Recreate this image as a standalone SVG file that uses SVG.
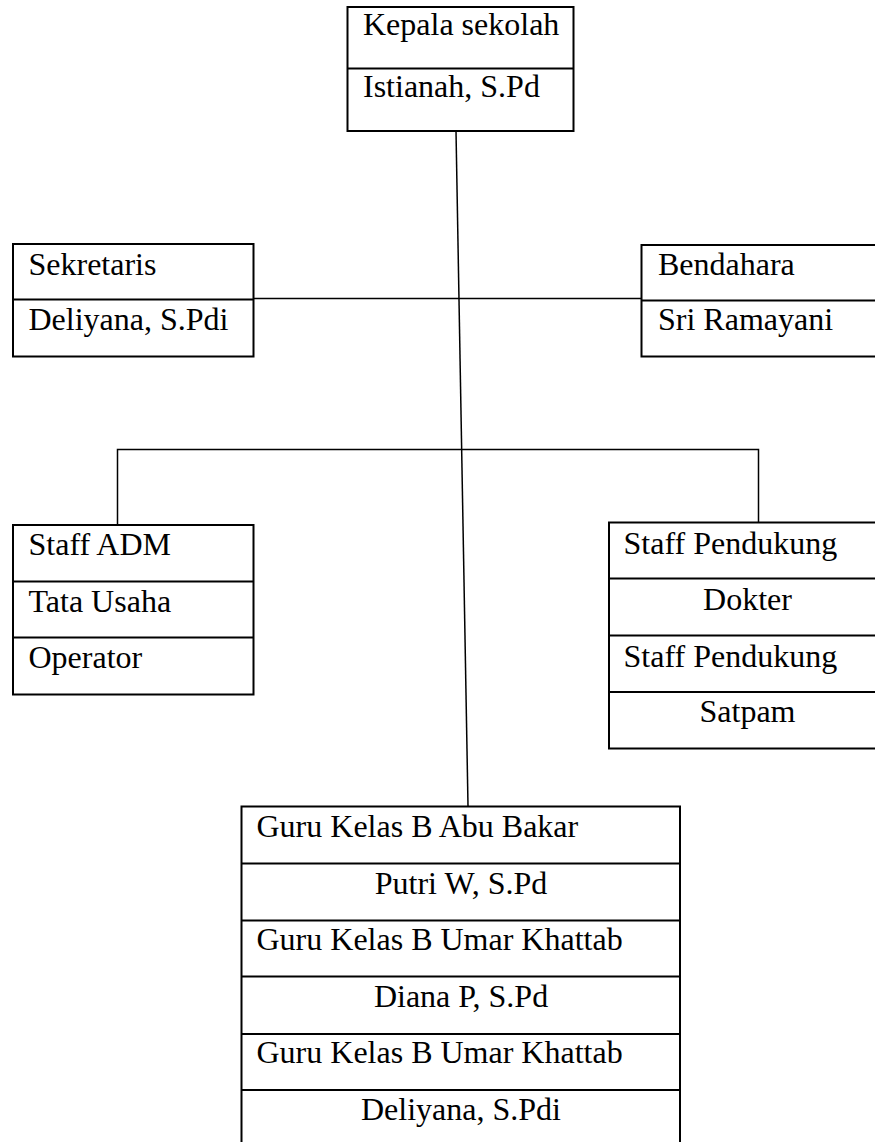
<svg xmlns="http://www.w3.org/2000/svg" width="875" height="1142" viewBox="0 0 875 1142">
<style>
.box{fill:none;stroke:#000;stroke-width:2}
.div{stroke:#000;stroke-width:2}
.con{fill:none;stroke:#000;stroke-width:1.5}
text{font-family:"Liberation Serif","Times New Roman",serif;font-size:32px;fill:#000}
.c{text-anchor:middle}
</style>
<rect width="875" height="1142" fill="#fff"/>
<g id="connectors">
<line class="con" x1="456" y1="131" x2="468" y2="806"/>
<line class="con" x1="253" y1="298.5" x2="641" y2="298.5"/>
<polyline class="con" points="117.5,525 117.5,449.5 758.5,449.5 758.5,523"/>
</g>
<g id="kepala">
<rect class="box" x="347.5" y="7" width="226" height="124"/>
<line class="div" x1="347.5" y1="68.5" x2="573.5" y2="68.5"/>
<text x="363" y="35">Kepala sekolah</text>
<text x="363" y="97">Istianah, S.Pd</text>
</g>
<g id="sekretaris">
<rect class="box" x="13" y="244" width="240.5" height="112.5"/>
<line class="div" x1="13" y1="299.5" x2="253.5" y2="299.5"/>
<text x="28.5" y="275">Sekretaris</text>
<text x="28.5" y="330">Deliyana, S.Pdi</text>
</g>
<g id="bendahara">
<rect class="box" x="641.5" y="245" width="260" height="111.5"/>
<line class="div" x1="641.5" y1="300.5" x2="901.5" y2="300.5"/>
<text x="658" y="275">Bendahara</text>
<text x="658" y="330">Sri Ramayani</text>
</g>
<g id="staff-adm">
<rect class="box" x="13" y="525" width="240.5" height="169.5"/>
<line class="div" x1="13" y1="581.5" x2="253.5" y2="581.5"/>
<line class="div" x1="13" y1="637.5" x2="253.5" y2="637.5"/>
<text x="28.5" y="555">Staff ADM</text>
<text x="28.5" y="611.5">Tata Usaha</text>
<text x="28.5" y="668">Operator</text>
</g>
<g id="staff-pendukung">
<rect class="box" x="609" y="522.5" width="300" height="226"/>
<line class="div" x1="609" y1="578.5" x2="909" y2="578.5"/>
<line class="div" x1="609" y1="635.5" x2="909" y2="635.5"/>
<line class="div" x1="609" y1="692" x2="909" y2="692"/>
<text x="623.5" y="553.5">Staff Pendukung</text>
<text class="c" x="747.5" y="609.5">Dokter</text>
<text x="623.5" y="666.5">Staff Pendukung</text>
<text class="c" x="747.5" y="721.5">Satpam</text>
</g>
<g id="guru">
<rect class="box" x="241.5" y="806.5" width="438.5" height="360"/>
<line class="div" x1="241.5" y1="863.5" x2="680" y2="863.5"/>
<line class="div" x1="241.5" y1="920.5" x2="680" y2="920.5"/>
<line class="div" x1="241.5" y1="976.5" x2="680" y2="976.5"/>
<line class="div" x1="241.5" y1="1034" x2="680" y2="1034"/>
<line class="div" x1="241.5" y1="1090" x2="680" y2="1090"/>
<text x="256.5" y="836.5">Guru Kelas B Abu Bakar</text>
<text class="c" x="461" y="893.5">Putri W, S.Pd</text>
<text x="256.5" y="950">Guru Kelas B Umar Khattab</text>
<text class="c" x="461" y="1006.5">Diana P, S.Pd</text>
<text x="256.5" y="1062.5">Guru Kelas B Umar Khattab</text>
<text class="c" x="461" y="1120">Deliyana, S.Pdi</text>
</g>
</svg>
